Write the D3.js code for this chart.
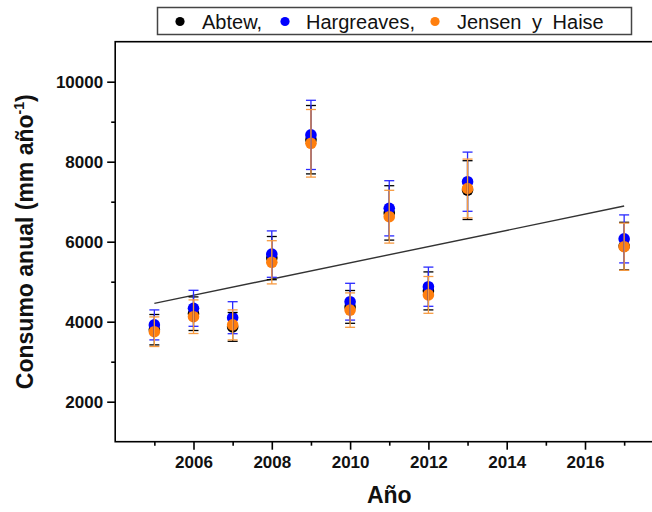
<!DOCTYPE html>
<html>
<head>
<meta charset="utf-8">
<script src="https://cdn.jsdelivr.net/npm/d3@7"></script>
<style>
  html, body { margin: 0; padding: 0; background: #fff; }
  svg { display: block; font-family: "Liberation Sans", Arial, sans-serif; }
</style>
</head>
<body>
<svg id="chart" width="652" height="512"></svg>
<script>
// ---- data ----
const years = [2005, 2006, 2007, 2008, 2009, 2010, 2011, 2012, 2013, 2017];
const abtew       = [3800, 4200, 3870, 5590, 8550, 4370, 6720, 4770, 7290, 5890];
const abtewErr    = [380, 420, 360, 540, 855, 410, 680, 475, 735, 595];
const hargreaves  = [3920, 4335, 4100, 5690, 8670, 4500, 6835, 4875, 7500, 6070];
const hargErr     = [375, 450, 400, 580, 865, 460, 690, 490, 740, 600];
const jensen      = [3750, 4125, 3920, 5485, 8460, 4290, 6625, 4670, 7330, 5875];
const jensenErr   = [370, 420, 375, 540, 845, 430, 660, 460, 735, 590];
const trendYears  = [2005, 2017];
const trendValues = [4458, 6892];
const seriesNames = ["Abtew,", "Hargreaves,", "Jensen y Haise"];
const yTicks = [2000, 4000, 6000, 8000, 10000];
const yMinorTicks = [3000, 5000, 7000, 9000];
const xTicks = [2006, 2008, 2010, 2012, 2014, 2016];
const xMinorTicks = [2005, 2007, 2009, 2011, 2013, 2015, 2017];

const colors = ["#000000", "#0000ff", "#ff7f0e"];
const barColors = ["#000000", "#2a2aff", "#f79a40"];

const series = [
  { name: seriesNames[0], values: abtew, errs: abtewErr },
  { name: seriesNames[1], values: hargreaves, errs: hargErr },
  { name: seriesNames[2], values: jensen, errs: jensenErr }
];

// ---- layout ----
const pLeft = 115.2, pRight = 663.3, pTop = 41.7, pBottom = 441.7;
const svg = d3.select("#chart");
svg.append("rect").attr("width", 652).attr("height", 512).attr("fill", "#fff");

const x = d3.scaleLinear().domain([2004, 2018]).range([pLeft, pRight]);
const y = d3.scaleLinear().domain([1000, 11000]).range([pBottom, pTop]);

// frame
svg.append("rect")
  .attr("x", pLeft).attr("y", pTop)
  .attr("width", pRight - pLeft).attr("height", pBottom - pTop)
  .attr("fill", "none").attr("stroke", "#000").attr("stroke-width", 1.6);

// axes
const fontTick = "bold 17px 'Liberation Sans', Arial, sans-serif";
const yAxis = svg.append("g").attr("transform", `translate(${pLeft},0)`)
  .call(d3.axisLeft(y).tickValues(yTicks).tickSize(8).tickPadding(4).tickFormat(d3.format("d")));
const yMinor = svg.append("g").attr("transform", `translate(${pLeft},0)`)
  .call(d3.axisLeft(y).tickValues(yMinorTicks).tickSize(4).tickFormat(""));
const xAxis = svg.append("g").attr("transform", `translate(0,${pBottom})`)
  .call(d3.axisBottom(x).tickValues(xTicks).tickSize(8).tickPadding(6).tickFormat(d3.format("d")));
const xMinor = svg.append("g").attr("transform", `translate(0,${pBottom})`)
  .call(d3.axisBottom(x).tickValues(xMinorTicks).tickSize(4).tickFormat(""));

[yAxis, yMinor, xAxis, xMinor].forEach(g => {
  g.select(".domain").remove();
  g.selectAll(".tick line").attr("stroke", "#000").attr("stroke-width", 1.6);
  g.selectAll(".tick text").style("font", fontTick).attr("fill", "#111");
});

// axis titles
svg.append("text")
  .attr("x", (pLeft + pRight) / 2).attr("y", 503.3)
  .attr("text-anchor", "middle")
  .style("font", "bold 23px 'Liberation Sans', Arial, sans-serif")
  .attr("fill", "#111")
  .text("Año");

const yt = svg.append("text")
  .attr("transform", `translate(33,${(pTop + pBottom) / 2}) rotate(-90)`)
  .attr("text-anchor", "middle")
  .style("font", "bold 23px 'Liberation Sans', Arial, sans-serif")
  .attr("fill", "#111");
yt.append("tspan").text("Consumo anual (mm año");
yt.append("tspan").attr("dy", -9).style("font-size", "14px").text("-1");
yt.append("tspan").attr("dy", 9).text(")");

// trend line
svg.append("line")
  .attr("x1", x(trendYears[0])).attr("y1", y(trendValues[0]))
  .attr("x2", x(trendYears[1])).attr("y2", y(trendValues[1]))
  .attr("stroke", "#333").attr("stroke-width", 1.4);

// points
series.forEach((s, i) => {
  svg.append("g").selectAll("circle")
    .data(years.map((yr, k) => ({ yr, v: s.values[k] })))
    .join("circle")
    .attr("cx", d => x(d.yr)).attr("cy", d => y(d.v))
    .attr("r", 5.8).attr("fill", colors[i]);
});

// error bars
const cap = 5;
series.forEach((s, i) => {
  const g = svg.append("g").attr("stroke", barColors[i]).attr("stroke-width", 1.3).attr("fill", "none");
  years.forEach((yr, k) => {
    const cx = x(yr), hi = y(s.values[k] + s.errs[k]), lo = y(s.values[k] - s.errs[k]);
    g.append("line").attr("x1", cx).attr("x2", cx).attr("y1", hi).attr("y2", lo);
    g.append("line").attr("x1", cx - cap).attr("x2", cx + cap).attr("y1", hi).attr("y2", hi);
    g.append("line").attr("x1", cx - cap).attr("x2", cx + cap).attr("y1", lo).attr("y2", lo);
  });
});

// legend
const lg = svg.append("g");
lg.append("rect")
  .attr("x", 157.5).attr("y", 7.5).attr("width", 474).attr("height", 27)
  .attr("fill", "#fff").attr("stroke", "#444").attr("stroke-width", 1.5);
const dotX = [180, 285, 435];
const textX = [202, 306, 457];
series.forEach((s, i) => {
  lg.append("circle").attr("cx", dotX[i]).attr("cy", 21.5).attr("r", 4.6).attr("fill", colors[i]);
  lg.append("text").attr("x", textX[i]).attr("y", 28.5)
    .style("font", "20px 'Liberation Sans', Arial, sans-serif")
    .style("word-spacing", "5px")
    .attr("fill", "#111").text(s.name);
});
</script>
</body>
</html>
